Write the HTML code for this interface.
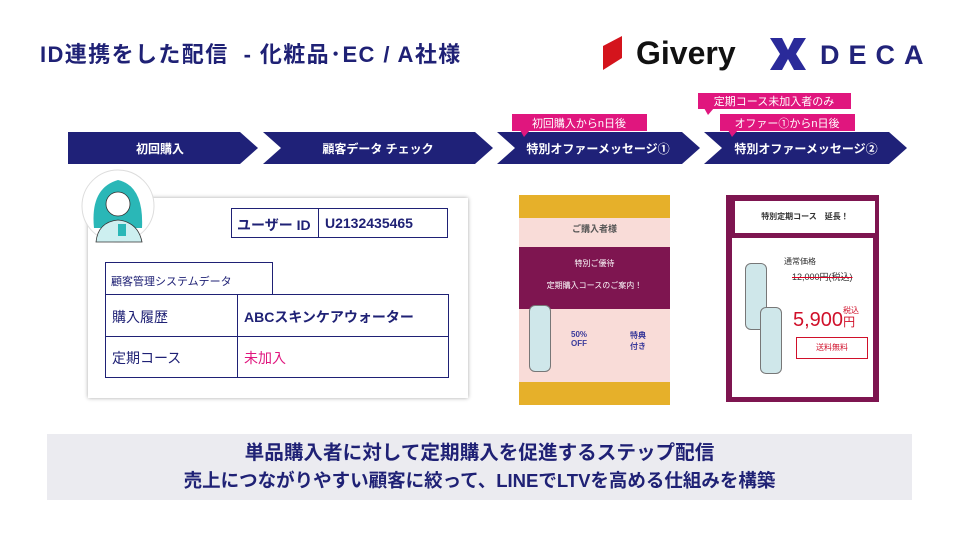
<!DOCTYPE html>
<html><head><meta charset="utf-8"><style>
body{margin:0;width:960px;height:540px;background:#fff;position:relative;overflow:hidden;font-family:"Liberation Sans","Noto Sans CJK JP",sans-serif;color:#1f2175}
.a{position:absolute}
.t{font-weight:bold}
</style></head><body>
<div class="a t" style="left:40px;top:37px;font-size:22px;letter-spacing:1.4px;color:#1f2175">ID連携をした配信&nbsp; - 化粧品･EC / A社様</div>
<!-- logos -->
<svg class="a" style="left:600px;top:34px" width="340" height="40">
<polygon points="3,12 22,2 22,24 3,36" fill="#d4141c"/>
<text x="36" y="30" font-family="Liberation Sans" font-weight="bold" font-size="32" fill="#111">Givery</text>
<polygon points="170,4 182,4 188,16 194,4 206,4 196,20 206,36 194,36 188,25 182,36 170,36 180,20" fill="#2a2a9a"/>
<text x="220" y="30" font-family="Liberation Sans" font-weight="bold" font-size="27" letter-spacing="9" fill="#22237a">DECA</text>
</svg>
<!-- chevrons -->
<svg class="a" style="left:0;top:0" width="960" height="200">
<g fill="#1f2178">
<polygon points="68,132 240,132 258,148 240,164 68,164"/>
<polygon points="263,132 475,132 493,148 475,164 263,164 281,148"/>
<polygon points="497,132 682,132 700,148 682,164 497,164 515,148"/>
<polygon points="704,132 889,132 907,148 889,164 704,164 722,148"/>
</g>
<g fill="#e0167e">
<rect x="512" y="114" width="135" height="17"/><polygon points="520,130 530,130 524,137"/>
<rect x="698" y="93" width="153" height="16"/><polygon points="704,108 714,108 708,115"/>
<rect x="720" y="114" width="135" height="17"/><polygon points="728,130 738,130 732,137"/>
</g>
<g font-family="Liberation Sans,Noto Sans CJK JP,sans-serif" font-size="11" fill="#fff" text-anchor="middle">
<text x="579" y="127">初回購入からn日後</text>
<text x="774" y="105">定期コース未加入者のみ</text>
<text x="787" y="127">オファー①からn日後</text>
</g>
<g font-family="Liberation Sans,Noto Sans CJK JP,sans-serif" font-size="12" font-weight="bold" fill="#fff" text-anchor="middle">
<text x="160" y="153">初回購入</text>
<text x="378" y="153">顧客データ チェック</text>
<text x="598" y="153">特別オファーメッセージ①</text>
<text x="806" y="153">特別オファーメッセージ②</text>
</g>
</svg>
<!-- card -->
<div class="a" style="left:88px;top:198px;width:380px;height:200px;background:#fff;box-shadow:0 0 4px rgba(0,0,0,.35)"></div>
<svg class="a" style="left:80px;top:168px" width="80" height="80">
<circle cx="38" cy="38" r="36" fill="#fff" stroke="#ddd"/>
<path d="M14,60 Q10,20 38,12 Q64,18 62,60 Z" fill="#2ab7b7"/>
<circle cx="38" cy="36" r="12" fill="#fff" stroke="#333" stroke-width=".8"/>
<path d="M16,74 Q18,54 38,52 Q58,54 62,74 Z" fill="#cdeff0" stroke="#333" stroke-width=".8"/>
<rect x="38" y="56" width="8" height="12" fill="#2ab7b7"/>
</svg>
<div class="a" style="left:231px;top:208px;width:217px;height:30px;border:1.2px solid #1f2175;box-sizing:border-box;font-size:14px;font-weight:bold">
<div class="a" style="left:86px;top:0;height:28px;border-left:1.2px solid #1f2175"></div>
<span class="a" style="left:5px;top:6px">ユーザー ID</span><span class="a" style="left:93px;top:6px">U2132435465</span></div>
<div class="a" style="left:105px;top:262px;width:168px;height:33px;border:1.2px solid #1f2175;box-sizing:border-box;font-size:11px;padding:10px 0 0 5px">顧客管理システムデータ</div>
<div class="a" style="left:105px;top:294px;width:344px;height:84px;border:1.2px solid #1f2175;box-sizing:border-box;font-size:14px">
<div class="a" style="left:131px;top:0;height:82px;border-left:1.2px solid #1f2175"></div>
<div class="a" style="left:0;top:41px;width:342px;border-top:1.2px solid #1f2175"></div>
<span class="a" style="left:6px;top:12px">購入履歴</span><span class="a t" style="left:138px;top:12px">ABCスキンケアウォーター</span>
<span class="a" style="left:6px;top:53px">定期コース</span><span class="a" style="left:138px;top:53px;color:#e0167e">未加入</span></div>
<!-- image 1 -->
<div class="a" style="left:519px;top:195px;width:151px;height:210px;background:#f9dcd8"></div>
<div class="a" style="left:519px;top:195px;width:151px;height:23px;background:#e6b02a"></div>
<div class="a" style="left:519px;top:382px;width:151px;height:23px;background:#e6b02a"></div>
<div class="a" style="left:519px;top:247px;width:151px;height:62px;background:#7e1550"></div>
<div class="a" style="left:519px;top:222px;width:151px;text-align:center;font-size:9px;font-weight:bold;color:#555">ご購入者様</div>
<div class="a" style="left:519px;top:258px;width:151px;text-align:center;font-size:8px;color:#fff">特別ご優待</div>
<div class="a" style="left:519px;top:280px;width:151px;text-align:center;font-size:8px;color:#fff">定期購入コースのご案内！</div>
<div class="a" style="left:529px;top:305px;width:20px;height:65px;background:#cfe7ea;border:1px solid #777;border-radius:6px"></div>
<div class="a" style="left:571px;top:330px;font-size:8px;font-weight:bold;color:#3a3a9a;text-align:center">50%<br>OFF</div>
<div class="a" style="left:630px;top:330px;font-size:8px;font-weight:bold;color:#3a3a9a">特典<br>付き</div>
<!-- image 2 -->
<div class="a" style="left:726px;top:195px;width:153px;height:207px;background:#7e1550"></div>
<div class="a" style="left:732px;top:238px;width:141px;height:159px;background:#fff"></div>
<div class="a" style="left:734px;top:200px;width:140px;height:32px;background:#fff;border:1px solid #7e1550;font-size:8px;font-weight:bold;color:#333;text-align:center;line-height:32px">特別定期コース　延長！</div>
<div class="a" style="left:784px;top:256px;font-size:8px;color:#333">通常価格</div>
<div class="a" style="left:792px;top:270px;font-size:9px;color:#333;text-decoration:line-through;text-decoration-color:#d02">12,000円(税込)</div>
<div class="a" style="left:793px;top:309px;font-size:20px;color:#d0102a">5,900<span style="font-size:12px">円</span></div>
<div class="a" style="left:843px;top:305px;font-size:8px;color:#d0102a">税込</div>
<div class="a" style="left:796px;top:337px;width:70px;height:20px;border:1px solid #d0102a;font-size:8px;color:#d0102a;text-align:center;line-height:20px">送料無料</div>
<div class="a" style="left:745px;top:263px;width:20px;height:65px;background:#cfe7ea;border:1px solid #777;border-radius:6px"></div>
<div class="a" style="left:760px;top:307px;width:20px;height:65px;background:#cfe7ea;border:1px solid #777;border-radius:6px"></div>
<!-- bottom band -->
<div class="a t" style="left:47px;top:434px;width:865px;height:66px;background:#ebebf0;text-align:center;font-size:18.5px;line-height:28px;padding-top:5px;box-sizing:border-box"><span style="font-size:19.6px">単品購入者に対して定期購入を促進するステップ配信</span><br>売上につながりやすい顧客に絞って、LINEでLTVを高める仕組みを構築</div>
</body></html>
